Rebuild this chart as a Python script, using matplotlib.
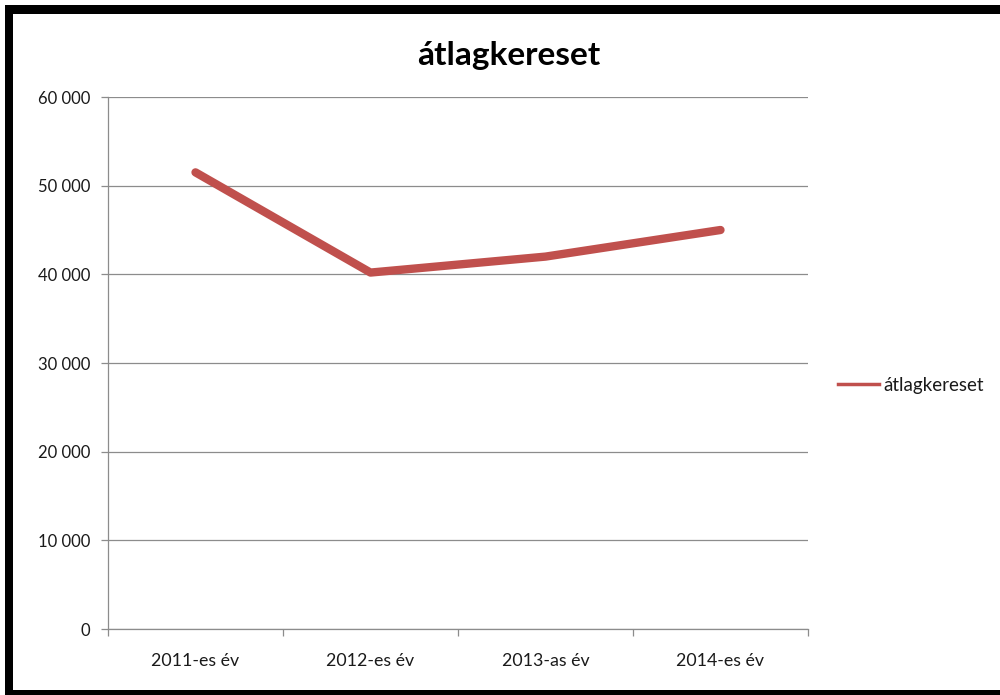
import matplotlib
matplotlib.use("Agg")
import matplotlib.pyplot as plt
from matplotlib.patches import Rectangle
from matplotlib.lines import Line2D
from matplotlib.ticker import FuncFormatter

plt.rcParams['font.family'] = ['Lato', 'DejaVu Sans']

title = "átlagkereset"
series_name = "átlagkereset"
categories = ["2011-es év", "2012-es év", "2013-as év", "2014-es év"]
values = [51500, 40200, 42000, 45000]
y_ticks = [0, 10000, 20000, 30000, 40000, 50000, 60000]

line_color = "#C0504D"
grid_color = "#8C8C8C"
text_color = "#1A1A1A"

W, H = 1000, 695
fig = plt.figure(figsize=(W / 100, H / 100), dpi=100)
fig.patch.set_facecolor("white")

def px_rect(x0, y0, x1, y1, color):
    fig.patches.append(Rectangle((x0 / W, 1 - y1 / H), (x1 - x0) / W, (y1 - y0) / H,
                                 transform=fig.transFigure, facecolor=color,
                                 edgecolor="none", zorder=0))

# black frame around the chart
px_rect(5, 5, 1000, 14, "black")
px_rect(5, 5, 13, 695, "black")
px_rect(5, 690, 1000, 695, "black")

ax = fig.add_axes([108 / W, 1 - 629 / H, 700 / W, 532 / H])
ax.set_facecolor("none")

x = list(range(len(categories)))
ax.plot(x, values, color=line_color, lw=6, solid_capstyle="round",
        solid_joinstyle="round", zorder=3)

ax.set_xlim(-0.5, len(categories) - 0.5)
ax.set_ylim(0, 60000)
ax.set_yticks(y_ticks)
ax.yaxis.set_major_formatter(FuncFormatter(lambda v, p: f"{int(v):,}".replace(",", " ")))
ax.set_xticks(x)
ax.set_xticklabels(categories)
ax.set_xticks([i - 0.5 for i in range(len(categories) + 1)], minor=True)

ax.grid(axis="y", color=grid_color, lw=0.9, zorder=1)
ax.set_axisbelow(True)
for s in ("top", "right"):
    ax.spines[s].set_visible(False)
for s in ("left", "bottom"):
    ax.spines[s].set_color(grid_color)
    ax.spines[s].set_linewidth(0.9)

ax.tick_params(axis="y", length=5, width=0.9, color=grid_color, pad=8,
               labelsize=12, labelcolor=text_color)
ax.tick_params(axis="x", which="major", length=0, pad=17, labelsize=12.8,
               labelcolor=text_color)
ax.tick_params(axis="x", which="minor", length=5, width=0.9, color=grid_color)

fig.text(509 / W, 1 - 56 / H, title, ha="center", va="center",
         fontsize=24, fontweight="bold", color="black")

handle = Line2D([], [], color=line_color, lw=2.5)
fig.legend([handle], [series_name], loc="center left",
           bbox_to_anchor=(838 / W, 1 - 385 / H), frameon=False,
           fontsize=13.5, handlelength=2.2, handletextpad=0.2,
           borderpad=0, borderaxespad=0, labelcolor=text_color)

fig.savefig("out.png", dpi=100, facecolor="white")
